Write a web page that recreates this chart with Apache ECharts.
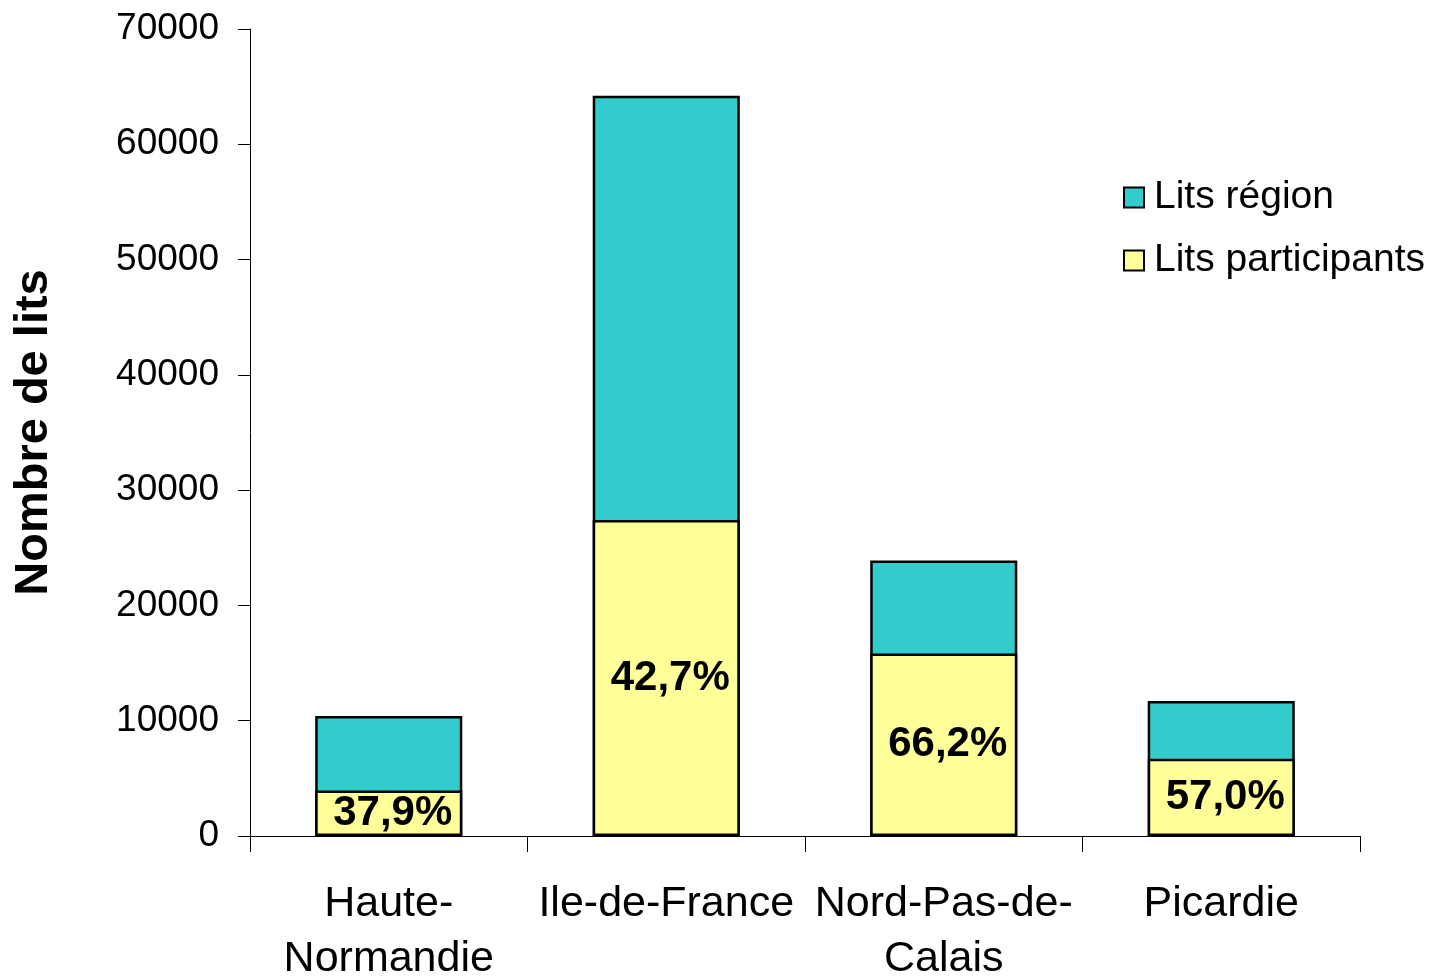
<!DOCTYPE html>
<html>
<head>
<meta charset="utf-8">
<script src="https://cdn.jsdelivr.net/npm/echarts@6/dist/echarts.min.js"></script>
<style>
html,body{margin:0;padding:0;background:#fff;}
#c{width:1433px;height:979px;}
</style>
</head>
<body>
<div id="c"></div>
<script>
const categories = ['Haute-\nNormandie', 'Ile-de-France', 'Nord-Pas-de-\nCalais', 'Picardie'];
const litsRegion = [10400, 64200, 23900, 11700];
const litsParticipants = [3940, 27400, 15820, 6700];
const pctLabels = ['37,9%', '42,7%', '66,2%', '57,0%'];
const yTicks = [0, 10000, 20000, 30000, 40000, 50000, 60000, 70000];

const font = 'Liberation Sans, Arial, sans-serif';
const chart = echarts.init(document.getElementById('c'));
chart.setOption({
  animation: false,
  backgroundColor: '#ffffff',
  textStyle: { fontFamily: font, color: '#000' },
  grid: { left: 250, right: 73, top: 29, bottom: 143, containLabel: false, outerBoundsMode: 'none' },
  legend: {
    orient: 'vertical',
    left: 1118,
    top: 173,
    itemWidth: 20,
    itemHeight: 20,
    itemGap: 24,
    icon: 'rect',
    textStyle: { fontSize: 39, color: '#000', fontFamily: font, padding: [0, 0, 0, 5] },
    data: ['Lits région', 'Lits participants']
  },
  xAxis: {
    type: 'category',
    data: categories,
    axisLine: { show: true, lineStyle: { color: '#000', width: 1 } },
    axisTick: { show: true, length: 16, lineStyle: { color: '#000' } },
    axisLabel: { fontSize: 43, color: '#000', fontFamily: font, margin: 41, lineHeight: 55, interval: 0 },
    splitLine: { show: false }
  },
  yAxis: {
    type: 'value',
    min: yTicks[0],
    max: yTicks[yTicks.length - 1],
    interval: 10000,
    name: 'Nombre de lits',
    nameLocation: 'middle',
    nameGap: 192,
    nameRotate: 90,
    nameTextStyle: { fontSize: 47, fontWeight: 'bold', color: '#000', fontFamily: font },
    axisLine: { show: true, lineStyle: { color: '#000', width: 1 } },
    axisTick: { show: true, length: 12, lineStyle: { color: '#000' } },
    axisLabel: { fontSize: 37, color: '#000', fontFamily: font, margin: 31, formatter: v => String(v) },
    splitLine: { show: false }
  },
  series: [
    {
      name: 'Lits région',
      type: 'bar',
      data: litsRegion,
      barWidth: '53%',
      itemStyle: { color: '#33CCCC', borderColor: '#000', borderWidth: 2.5 }
    },
    {
      name: 'Lits participants',
      type: 'bar',
      data: litsParticipants,
      barWidth: '53%',
      barGap: '-100%',
      itemStyle: { color: '#FFFF99', borderColor: '#000', borderWidth: 2.5 },
      label: {
        show: true,
        position: 'inside',
        offset: [4, 0],
        fontSize: 42,
        fontWeight: 'bold',
        color: '#000',
        fontFamily: font,
        formatter: p => pctLabels[p.dataIndex]
      }
    }
  ]
});
</script>
</body>
</html>
